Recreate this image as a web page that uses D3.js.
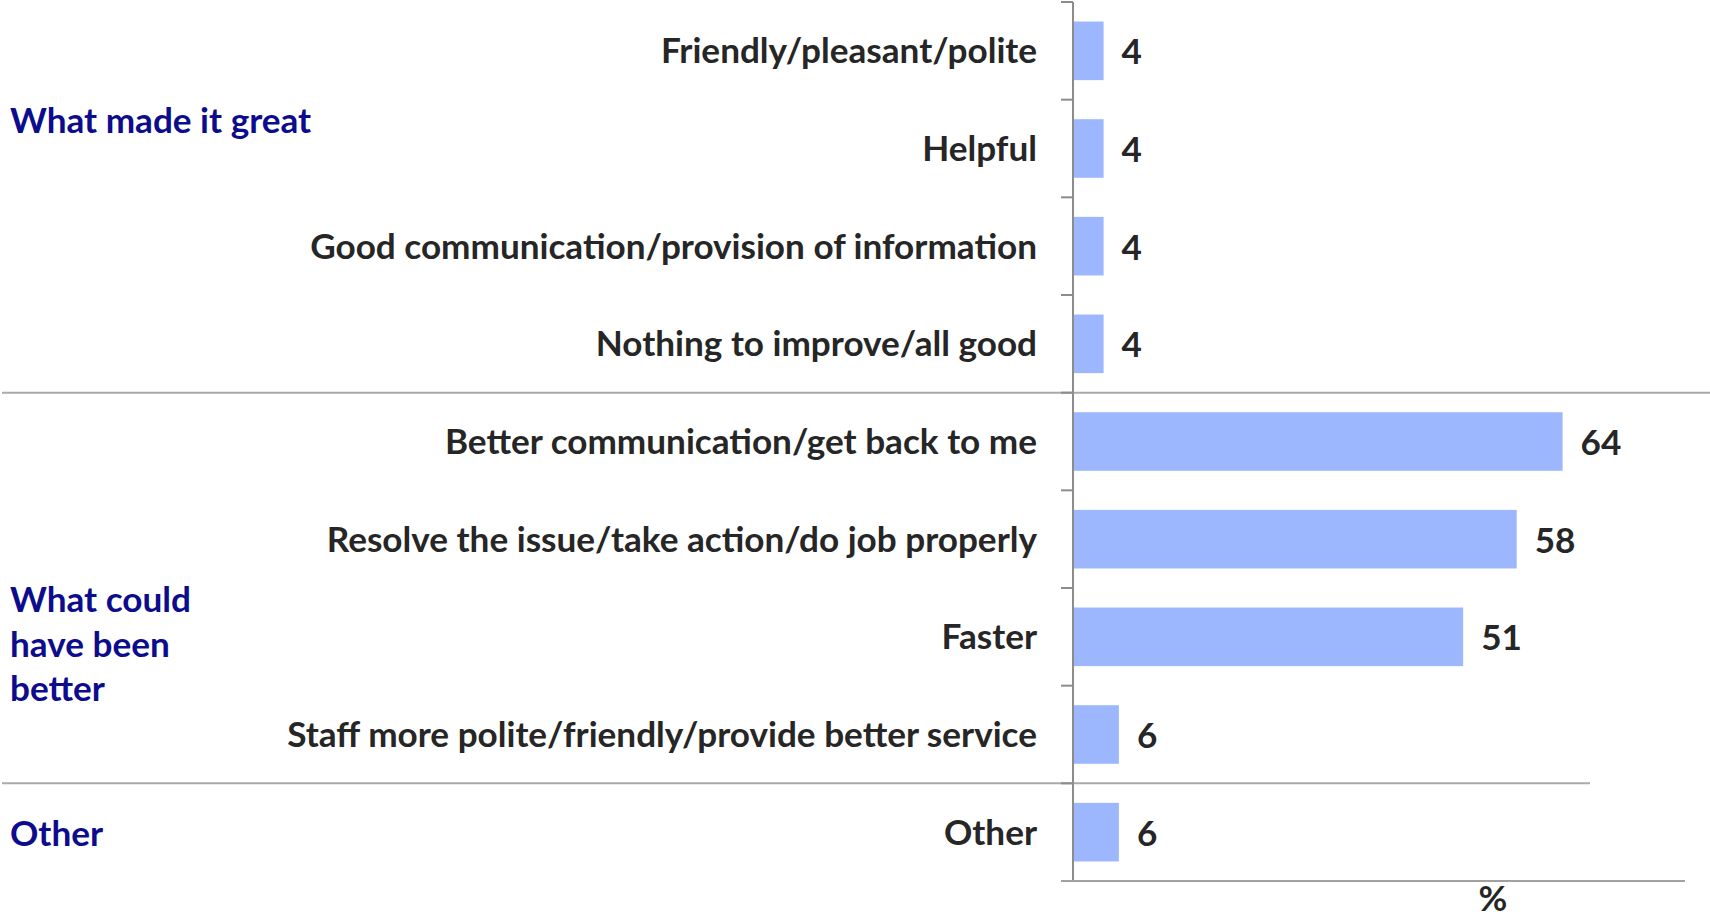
<!DOCTYPE html>
<html><head><meta charset="utf-8">
<script src="https://cdn.jsdelivr.net/npm/d3@7/dist/d3.min.js"></script>
<style>
html,body{margin:0;padding:0;background:#fff;}
svg text{font-family:Lato,"Open Sans",sans-serif;font-weight:bold;}
</style></head>
<body><svg id="chart" width="1710" height="918"></svg>
<script>
const categories = [
  "Friendly/pleasant/polite",
  "Helpful",
  "Good communication/provision of information",
  "Nothing to improve/all good",
  "Better communication/get back to me",
  "Resolve the issue/take action/do job properly",
  "Faster",
  "Staff more polite/friendly/provide better service",
  "Other"
];
const values = [4, 4, 4, 4, 64, 58, 51, 6, 6];
const groups = ["What made it great", "What could have been better", "Other"];
const groupLines = [["What made it great"], ["What could", "have been", "better"], ["Other"]];
const groupEnds = [3, 7, 8]; // index of last category in each group
const axisTitle = "%";

const svg = d3.select("#chart");
const x = d3.scaleLinear().domain([0, 80]).range([1073, 1685]);
const y = d3.scaleBand().domain(categories).range([2, 881]).paddingInner(0.4).paddingOuter(0.2);
const step = y.step();
const bandTop = i => y.range()[0] + i * step;

const fontColor = "#262626";
// fit font size to the reference width of the longest category label
const probe = svg.append("text").attr("font-size", 32).text(categories[2]);
const w = probe.node().getComputedTextLength();
probe.remove();
const fs = 32 * 727 / w;

// group separators
const sepEnds = [1710, 1590];
[0, 1].forEach(g => {
  const yy = bandTop(groupEnds[g] + 1);
  svg.append("line").attr("x1", 2).attr("x2", sepEnds[g]).attr("y1", yy).attr("y2", yy)
    .attr("stroke", "#a9a9a9").attr("stroke-width", 2);
});

// bars
svg.selectAll("rect.bar").data(values).enter().append("rect")
  .attr("class", "bar")
  .attr("x", x(0))
  .attr("y", (d, i) => y(categories[i]))
  .attr("width", d => x(d) - x(0))
  .attr("height", y.bandwidth())
  .attr("fill", "#9cb7fe");

// value labels
svg.selectAll("text.val").data(values).enter().append("text")
  .attr("class", "val")
  .attr("x", d => x(d) + 18)
  .attr("y", (d, i) => y(categories[i]) + y.bandwidth() / 2 + 1)
  .attr("dy", "0.36em")
  .attr("font-size", fs)
  .attr("fill", fontColor)
  .text(d => d);

// category labels
svg.selectAll("text.cat").data(categories).enter().append("text")
  .attr("class", "cat")
  .attr("x", 1037)
  .attr("y", d => y(d) + y.bandwidth() / 2)
  .attr("dy", "0.36em")
  .attr("text-anchor", "end")
  .attr("font-size", fs)
  .attr("fill", fontColor)
  .text(d => d);

// vertical axis line + ticks
const axisColor = "#8c8c8c";
svg.append("line").attr("x1", 1073).attr("x2", 1073).attr("y1", 2).attr("y2", 881)
  .attr("stroke", axisColor).attr("stroke-width", 2);
d3.range(categories.length + 1).forEach(i => {
  const yy = bandTop(i);
  svg.append("line").attr("x1", 1061).attr("x2", 1073).attr("y1", yy).attr("y2", yy)
    .attr("stroke", axisColor).attr("stroke-width", 2);
});
// bottom axis
svg.append("line").attr("x1", 1061).attr("x2", x(80)).attr("y1", 881).attr("y2", 881)
  .attr("stroke", "#a0a0a0").attr("stroke-width", 2);

// axis title
svg.append("text").attr("x", 1493).attr("y", 911).attr("text-anchor", "middle")
  .attr("font-size", fs).attr("fill", fontColor).text(axisTitle);

// group labels
const groupBaselines = [133, 612, 846];
groupLines.forEach((lines, g) => {
  lines.forEach((ln, k) => {
    svg.append("text").attr("x", 10).attr("y", groupBaselines[g] + k * 44.5)
      .attr("font-size", fs).attr("fill", "#0c0c8c").text(ln);
  });
});
</script></body></html>
